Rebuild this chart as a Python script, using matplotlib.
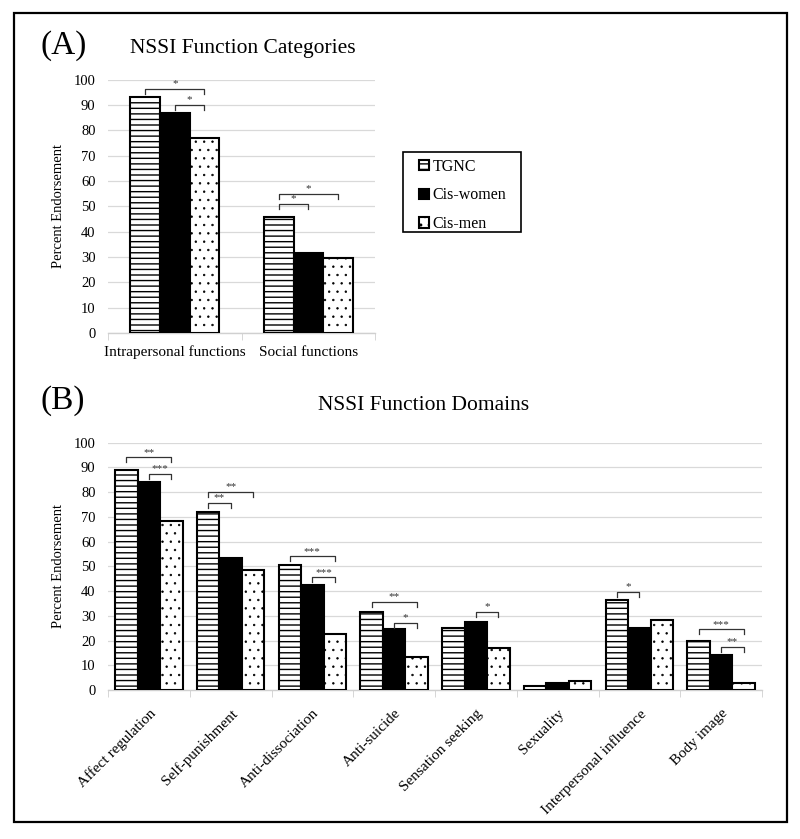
import matplotlib
matplotlib.use("Agg")
import matplotlib.pyplot as plt
from matplotlib.patches import Rectangle, Patch
import numpy as np

plt.rcParams['font.family'] = ['Liberation Serif', 'DejaVu Serif']
plt.rcParams['hatch.linewidth'] = 1.0

groups = ["TGNC", "Cis-women", "Cis-men"]

cat_a = ["Intrapersonal functions", "Social functions"]
tgnc_a = [93, 46]
women_a = [87, 31.5]
men_a = [77, 29.5]

cat_b = ["Affect regulation", "Self-punishment", "Anti-dissociation", "Anti-suicide",
         "Sensation seeking", "Sexuality", "Interpersonal influence", "Body image"]
tgnc_b = [89, 72, 50.5, 31.5, 25, 1.5, 36.5, 20]
women_b = [84, 53.5, 42.5, 24.5, 27.5, 3, 25, 14]
men_b = [68.5, 48.5, 22.5, 13.5, 17, 3.5, 28.5, 3]

# (category, group from, group to, height, stars)
sig_a = [(0, 0, 2, 96.5, "*"), (0, 1, 2, 90, "*"),
         (1, 0, 2, 55, "*"), (1, 0, 1, 51, "*")]
sig_b = [(0, 0, 2, 94, "**"), (0, 1, 2, 87.5, "***"),
         (1, 0, 2, 80, "**"), (1, 0, 1, 75.5, "**"),
         (2, 0, 2, 54, "***"), (2, 1, 2, 45.5, "***"),
         (3, 0, 2, 35.5, "**"), (3, 1, 2, 27, "*"),
         (4, 1, 2, 31.5, "*"),
         (6, 0, 1, 39.5, "*"),
         (7, 0, 2, 24.5, "***"), (7, 1, 2, 17.5, "**")]

styles = [dict(facecolor="white", hatch="---"),
          dict(facecolor="black", hatch=None),
          dict(facecolor="white", hatch="..")]
hatch_lw = [1.0, 1.0, 0.5]


def draw_panel(ax, cats, series, sig, width, label_kw):
    x = np.arange(len(cats))
    offsets = [-width, 0, width]
    for vals, off, st, hlw in zip(series, offsets, styles, hatch_lw):
        with plt.rc_context({'hatch.linewidth': hlw}):
            bars = ax.bar(x + off, vals, width, edgecolor="black", linewidth=1.5,
                          zorder=3, **st)
        for b in bars:
            if hasattr(b, "set_hatch_linewidth"):
                b.set_hatch_linewidth(hlw)
    for c, g1, g2, h, s in sig:
        x1 = c + offsets[g1]
        x2 = c + offsets[g2]
        ax.plot([x1, x1, x2, x2], [h - 2, h, h, h - 2], color="#333333",
                lw=0.9, zorder=4)
        ax.text((x1 + x2) / 2, h + 0.3, s, ha="center", va="bottom",
                fontsize=8, color="#333333")
    ax.set_ylim(0, 100)
    ax.set_xlim(-0.5, len(cats) - 0.5)
    ax.set_yticks(range(0, 101, 10))
    ax.yaxis.grid(True, color="#d9d9d9", lw=0.9)
    ax.set_axisbelow(True)
    for sp in ["top", "right", "left"]:
        ax.spines[sp].set_visible(False)
    ax.spines["bottom"].set_color("#d0d0d0")
    ax.spines["bottom"].set_linewidth(1.0)
    ax.tick_params(axis="y", length=0, pad=9, labelsize=10.5)
    ax.set_xticks(x)
    ax.set_xticks(np.arange(len(cats) + 1) - 0.5, minor=True)
    ax.tick_params(axis="x", which="major", length=0)
    ax.tick_params(axis="x", which="minor", length=5, color="#d0d0d0")
    ax.set_xticklabels(cats, **label_kw)
    ax.set_ylabel("Percent Endorsement", fontsize=10.5, labelpad=6)


fig = plt.figure(figsize=(8, 8.39), dpi=100)

ax_a = fig.add_axes([0.135, 0.603, 0.334, 0.302])
draw_panel(ax_a, cat_a, [tgnc_a, women_a, men_a], sig_a, 0.222,
           dict(fontsize=11))
ax_a.tick_params(axis="x", which="major", pad=9)

ax_b = fig.add_axes([0.135, 0.1776, 0.8175, 0.2948])
draw_panel(ax_b, cat_b, [tgnc_b, women_b, men_b], sig_b, 0.275,
           dict(fontsize=11, rotation=45, ha="right", va="top",
                rotation_mode="anchor"))
ax_b.tick_params(axis="x", which="major", pad=12)

fig.text(0.05, 0.946, "(A)", fontsize=24, va="center")
fig.text(0.304, 0.942, "NSSI Function Categories", fontsize=15.5,
         ha="center", va="center")
fig.text(0.05, 0.522, "(B)", fontsize=24, va="center")
fig.text(0.53, 0.517, "NSSI Function Domains", fontsize=15.5,
         ha="center", va="center")

# legend entries without frame, box drawn separately
handles = [Patch(edgecolor="black", linewidth=1.5, label=g, **st)
           for g, st in zip(groups, styles)]
fig.legend(handles=handles, loc="upper left", bbox_to_anchor=(0.524, 0.811),
           frameon=False, fontsize=11.5,
           handlelength=0.6, handleheight=0.6, handletextpad=0.25,
           labelspacing=0.8, borderpad=0, borderaxespad=0)
fig.patches.append(Rectangle((0.504, 0.7235), 0.147, 0.0955,
                             transform=fig.transFigure, fill=False,
                             edgecolor="black", linewidth=1.2))

fig.patches.append(Rectangle((0.0175, 0.0203), 0.966, 0.964,
                             transform=fig.transFigure, fill=False,
                             edgecolor="black", linewidth=1.6))

fig.savefig("out.png", dpi=100)
